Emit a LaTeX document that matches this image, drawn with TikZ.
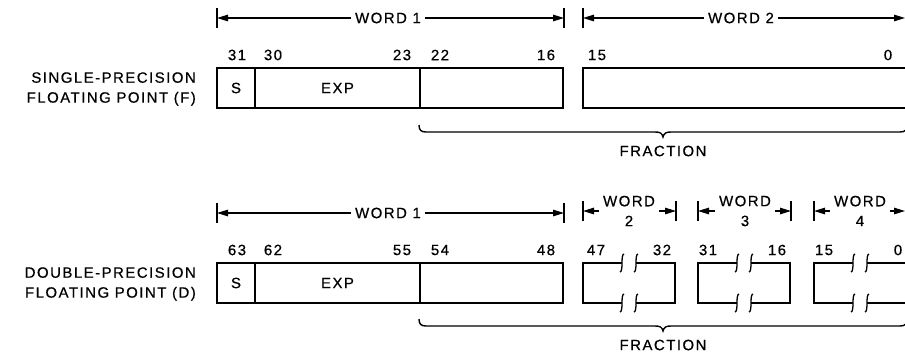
\documentclass[tikz,border=0pt]{standalone}
\usepackage{fontspec}
\setmainfont{Liberation Sans}[LetterSpace=10,FakeBold=0.6]
\usetikzlibrary{arrows.meta}
\tikzset{
  txt/.style={font=\fontsize{15}{20}\selectfont, inner sep=0pt},
  lbl/.style={txt, inner sep=4bp},
  field/.style={draw, line width=2bp, anchor=north west, minimum height=40bp,
    outer sep=0pt, inner sep=0pt, txt},
  boxline/.style={line width=2bp, line join=miter},
  dim/.style={line width=1.3bp, -{Triangle[length=11bp,width=6.5bp]}},
  bar/.style={line width=1.6bp},
  bracestyle/.style={line width=1.4bp},
  brk/.pic={\draw[line width=1.3bp] (2,-9) .. controls (0.2,-9) and (0,-4) .. (0,0)
      .. controls (0,4) and (-0.2,9) .. (-2,9);}
}
\begin{document}
\begin{tikzpicture}[x=1bp,y=-1bp]
\useasboundingbox (0,0) rectangle (905,356);
\clip (0,0) rectangle (905,356);

% ===================== SINGLE PRECISION =====================
% dimension lines
\coordinate (a1L) at (217,18);
\coordinate (a1R) at (564,18);
\coordinate (a2L) at (583,18);
\coordinate (a2R) at (905,18);
\foreach \c in {a1L,a1R,a2L}{\draw[bar] ([yshift=-10bp]\c) -- ([yshift=10bp]\c);}
\node[lbl] (w1) at (388,18) {WORD 1};
\node[lbl] (w2) at (741,18) {WORD 2};
\draw[dim] (w1.west) -- (a1L);
\draw[dim] (w1.east) -- (a1R);
\draw[dim] (w2.west) -- (a2L);
\draw[dim] (w2.east) -- (a2R);

% bit numbers
\node[txt] (n31) at (237,55) {31};
\node[txt] (n30) at (273,55) {30};
\node[txt] (n23) at (402,55) {23};
\node[txt] (n22) at (440,55) {22};
\node[txt] (n16) at (546,55) {16};
\node[txt] (n15) at (597,55) {15};
\node[txt] (n0)  at (888,55) {0};

% fields
\node[field, minimum width=38bp]  (s1) at (217,68) {S};
\node[field, minimum width=165bp] (e1) at (255,68) {EXP};
\node[field, minimum width=143bp] (f1) at (420,68) {};
\node[field, minimum width=330bp] (f2) at (583,68) {};

% label
\node[txt, anchor=east, align=right] (lab1) at (196,89) {SINGLE-PRECISION\\FLOATING POINT (F)};

% brace
\draw[bracestyle] (419,125) .. controls (419,130) and (421,132) .. (426,132) -- (655,132)
  .. controls (660,132) and (662,133) .. (663,137)
  .. controls (664,133) and (666,132) .. (671,132) -- (900,132)
  .. controls (905,132) and (907,130) .. (907,125);
\node[txt] (fr1) at (663,151) {FRACTION};

% ===================== DOUBLE PRECISION =====================
\coordinate (b1L) at (217,213);
\coordinate (b1R) at (564,213);
\foreach \c in {b1L,b1R}{\draw[bar] ([yshift=-10bp]\c) -- ([yshift=10bp]\c);}
\node[lbl] (v1) at (388,213) {WORD 1};
\draw[dim] (v1.west) -- (b1L);
\draw[dim] (v1.east) -- (b1R);

\coordinate (b2L) at (583,211);
\coordinate (b2R) at (676,211);
\coordinate (b3L) at (698,211);
\coordinate (b3R) at (791,211);
\coordinate (b4L) at (814,211);
\coordinate (b4R) at (905,211);
\foreach \c in {b2L,b2R,b3L,b3R,b4L}{\draw[bar] ([yshift=-10bp]\c) -- ([yshift=10bp]\c);}
\node[lbl, align=center] (v2) at (629,211) {WORD\\2};
\node[lbl, align=center] (v3) at (745,211) {WORD\\3};
\node[lbl, align=center] (v4) at (860,211) {WORD\\4};
\draw[dim] (v2.west) -- (b2L);
\draw[dim] (v2.east) -- (b2R);
\draw[dim] (v3.west) -- (b3L);
\draw[dim] (v3.east) -- (b3R);
\draw[dim] (v4.west) -- (b4L);
\draw[dim] (v4.east) -- (b4R);

% bit numbers
\node[txt] (m63) at (237,250) {63};
\node[txt] (m62) at (273,250) {62};
\node[txt] (m55) at (402,250) {55};
\node[txt] (m54) at (440,250) {54};
\node[txt] (m48) at (546,250) {48};
\node[txt] (m47) at (596,250) {47};
\node[txt] (m32) at (662,250) {32};
\node[txt] (m31) at (708,250) {31};
\node[txt] (m16) at (777,250) {16};
\node[txt] (m15) at (824,250) {15};
\node[txt] (m0)  at (898,250) {0};

% fields
\node[field, minimum width=38bp]  (s2) at (217,263) {S};
\node[field, minimum width=165bp] (e2) at (255,263) {EXP};
\node[field, minimum width=143bp] (f3) at (420,263) {};

% broken small boxes
\foreach \L/\R in {583/675, 698/790, 814/906}{
  \pgfmathsetmacro{\cL}{(\L+\R)/2-7}
  \pgfmathsetmacro{\cR}{(\L+\R)/2+7}
  \draw[boxline] (\cL,263) -- (\L,263) -- (\L,303) -- (\cL,303);
  \draw[boxline] (\cR,263) -- (\R,263) -- (\R,303) -- (\cR,303);
  \pic at (\cL,263) {brk};
  \pic at (\cR,263) {brk};
  \pic at (\cL,303) {brk};
  \pic at (\cR,303) {brk};
}

% label
\node[txt, anchor=east, align=right] (lab2) at (196,284) {DOUBLE-PRECISION\\FLOATING POINT (D)};

% brace
\draw[bracestyle] (419,319) .. controls (419,324) and (421,326) .. (426,326) -- (655,326)
  .. controls (660,326) and (662,327) .. (663,331)
  .. controls (664,327) and (666,326) .. (671,326) -- (900,326)
  .. controls (905,326) and (907,324) .. (907,319);
\node[txt] (fr2) at (663,345) {FRACTION};
\end{tikzpicture}
\end{document}
